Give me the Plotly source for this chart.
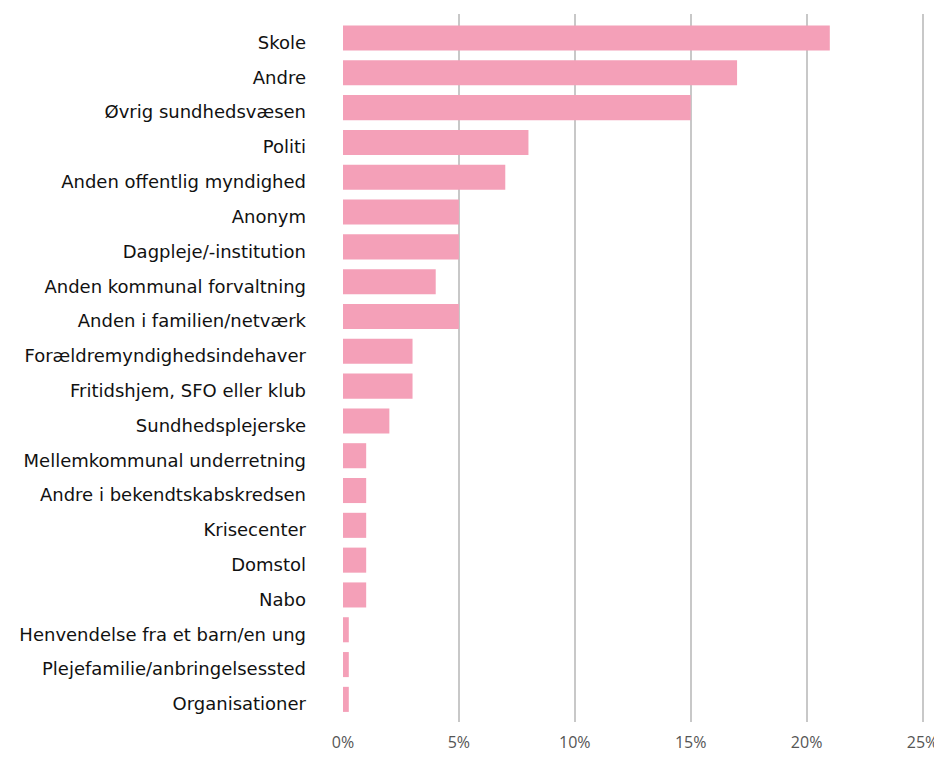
import plotly.graph_objects as go

# kilder til underretninger, andel i procent
categories = ['Skole', 'Andre', 'Øvrig sundhedsvæsen', 'Politi', 'Anden offentlig myndighed',
              'Anonym', 'Dagpleje/-institution', 'Anden kommunal forvaltning',
              'Anden i familien/netværk', 'Forældremyndighedsindehaver',
              'Fritidshjem, SFO eller klub', 'Sundhedsplejerske', 'Mellemkommunal underretning',
              'Andre i bekendtskabskredsen', 'Krisecenter', 'Domstol', 'Nabo',
              'Henvendelse fra et barn/en ung', 'Plejefamilie/anbringelsessted', 'Organisationer']
values = [21, 17, 15, 8, 7, 5, 5, 4, 5, 3, 3, 2, 1, 1, 1, 1, 1, 0.25, 0.25, 0.25]
tick_vals = [0, 5, 10, 15, 20, 25]
tick_text = ['0%', '5%', '10%', '15%', '20%', '25%']

fig = go.Figure()
# bars sit a little above their labels, like in the original
fig.add_trace(go.Bar(
    x=values, y=categories, orientation='h',
    width=0.72, offset=-0.49,
    marker=dict(color='#f4a0b8', line=dict(width=0)),
))

# the page body has an 8px margin, keep the figure inside the window
fig.update_layout(
    width=934, height=744,
    margin=dict(l=335, r=16, t=6, b=30),
    paper_bgcolor='white', plot_bgcolor='white',
    showlegend=False,
    font=dict(family='DejaVu Sans', size=16, color='#111'),
)
fig.update_xaxes(
    range=[0, 25.15], tickvals=tick_vals, ticktext=tick_text,
    showgrid=True, gridcolor='#c8c8c8', gridwidth=1.5,
    zeroline=False, showline=False, automargin=False,
    tickfont=dict(color='#555', size=16, family='Open Sans'),
    ticklabelstandoff=9, ticklabeloverflow='allow',
)
fig.update_yaxes(
    range=[19.52, -0.82], showgrid=False, zeroline=False, showline=False,
    automargin=False, ticklabelstandoff=36,
    tickfont=dict(color='#111', size=18),
)

fig.write_html('out.html')
